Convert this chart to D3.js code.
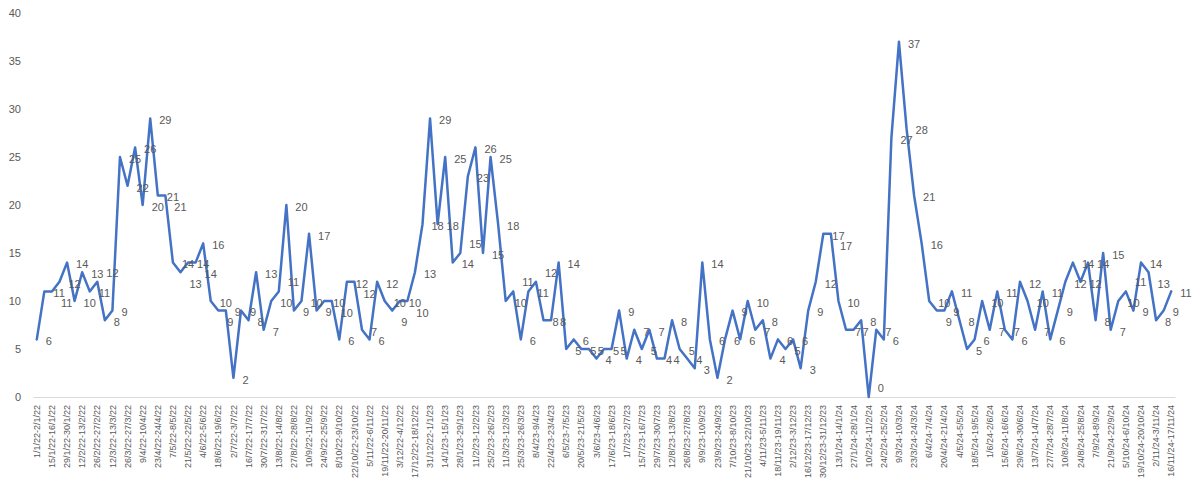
<!DOCTYPE html>
<html>
<head>
<meta charset="utf-8">
<script src="https://cdn.jsdelivr.net/npm/d3@7"></script>
<style>
  html, body { margin: 0; padding: 0; background: #ffffff; }
  svg { display: block; }
</style>
</head>
<body>
<svg id="chart" width="1200" height="504"></svg>
<script>
const categories = [
  "1/1/22-2/1/22","8/1/22-9/1/22","15/1/22-16/1/22","22/1/22-23/1/22","29/1/22-30/1/22",
  "5/2/22-6/2/22","12/2/22-13/2/22","19/2/22-20/2/22","26/2/22-27/2/22",
  "5/3/22-6/3/22","12/3/22-13/3/22","19/3/22-20/3/22","26/3/22-27/3/22",
  "2/4/22-3/4/22","9/4/22-10/4/22","16/4/22-17/4/22","23/4/22-24/4/22","30/4/22-1/5/22",
  "7/5/22-8/5/22","14/5/22-15/5/22","21/5/22-22/5/22","28/5/22-29/5/22",
  "4/6/22-5/6/22","11/6/22-12/6/22","18/6/22-19/6/22","25/6/22-26/6/22",
  "2/7/22-3/7/22","9/7/22-10/7/22","16/7/22-17/7/22","23/7/22-24/7/22","30/7/22-31/7/22",
  "6/8/22-7/8/22","13/8/22-14/8/22","20/8/22-21/8/22","27/8/22-28/8/22",
  "3/9/22-4/9/22","10/9/22-11/9/22","17/9/22-18/9/22","24/9/22-25/9/22",
  "1/10/22-2/10/22","8/10/22-9/10/22","15/10/22-16/10/22","22/10/22-23/10/22","29/10/22-30/10/22",
  "5/11/22-6/11/22","12/11/22-13/11/22","19/11/22-20/11/22","26/11/22-27/11/22",
  "3/12/22-4/12/22","10/12/22-11/12/22","17/12/22-18/12/22","24/12/22-25/12/22","31/12/22-1/1/23",
  "7/1/23-8/1/23","14/1/23-15/1/23","21/1/23-22/1/23","28/1/23-29/1/23",
  "4/2/23-5/2/23","11/2/23-12/2/23","18/2/23-19/2/23","25/2/23-26/2/23",
  "4/3/23-5/3/23","11/3/23-12/3/23","18/3/23-19/3/23","25/3/23-26/3/23",
  "1/4/23-2/4/23","8/4/23-9/4/23","15/4/23-16/4/23","22/4/23-23/4/23","29/4/23-30/4/23",
  "6/5/23-7/5/23","13/5/23-14/5/23","20/5/23-21/5/23","27/5/23-28/5/23",
  "3/6/23-4/6/23","10/6/23-11/6/23","17/6/23-18/6/23","24/6/23-25/6/23",
  "1/7/23-2/7/23","8/7/23-9/7/23","15/7/23-16/7/23","22/7/23-23/7/23","29/7/23-30/7/23",
  "5/8/23-6/8/23","12/8/23-13/8/23","19/8/23-20/8/23","26/8/23-27/8/23",
  "2/9/23-3/9/23","9/9/23-10/9/23","16/9/23-17/9/23","23/9/23-24/9/23","30/9/23-1/10/23",
  "7/10/23-8/10/23","14/10/23-15/10/23","21/10/23-22/10/23","28/10/23-29/10/23",
  "4/11/23-5/11/23","11/11/23-12/11/23","18/11/23-19/11/23","25/11/23-26/11/23",
  "2/12/23-3/12/23","9/12/23-10/12/23","16/12/23-17/12/23","23/12/23-24/12/23","30/12/23-31/12/23",
  "6/1/24-7/1/24","13/1/24-14/1/24","20/1/24-21/1/24","27/1/24-28/1/24",
  "3/2/24-4/2/24","10/2/24-11/2/24","17/2/24-18/2/24","24/2/24-25/2/24",
  "2/3/24-3/3/24","9/3/24-10/3/24","16/3/24-17/3/24","23/3/24-24/3/24","30/3/24-31/3/24",
  "6/4/24-7/4/24","13/4/24-14/4/24","20/4/24-21/4/24","27/4/24-28/4/24",
  "4/5/24-5/5/24","11/5/24-12/5/24","18/5/24-19/5/24","25/5/24-26/5/24",
  "1/6/24-2/6/24","8/6/24-9/6/24","15/6/24-16/6/24","22/6/24-23/6/24","29/6/24-30/6/24",
  "6/7/24-7/7/24","13/7/24-14/7/24","20/7/24-21/7/24","27/7/24-28/7/24",
  "3/8/24-4/8/24","10/8/24-11/8/24","17/8/24-18/8/24","24/8/24-25/8/24","31/8/24-1/9/24",
  "7/9/24-8/9/24","14/9/24-15/9/24","21/9/24-22/9/24","28/9/24-29/9/24",
  "5/10/24-6/10/24","12/10/24-13/10/24","19/10/24-20/10/24","26/10/24-27/10/24",
  "2/11/24-3/11/24","9/11/24-10/11/24","16/11/24-17/11/24"
];

const values2022 = [
  6, 11, 11, 12, 14, 10, 13, 11, 12, 8, 9, 25, 22, 26, 20, 29, 21, 21, 14, 13,
  14, 14, 16, 10, 9, 9, 2, 9, 8, 13, 7, 10, 11, 20, 9, 10, 17, 9, 10, 10,
  6, 12, 12, 7, 6, 12, 10, 9, 10, 10, 13, 18, 29
];
const values2023 = [
  18, 25, 14, 15, 23, 26, 15, 25, 18, 10, 11, 6, 11, 12, 8, 8, 14, 5, 6, 5,
  5, 4, 5, 5, 9, 4, 7, 5, 7, 4, 4, 8, 5, 4, 3, 14, 6, 2, 6, 9,
  6, 10, 7, 8, 4, 6, 5, 6, 3, 9, 12, 17
];
const values2024 = [
  17, 10, 7, 7, 8, 0, 7, 6, 27, 37, 28, 21, 16, 10, 9, 9, 11, 8, 5, 6,
  10, 7, 11, 7, 6, 12, 10, 7, 11, 6, 9, 12, 14, 12, 14, 8, 15, 7, 10, 11,
  9, 14, 13, 8, 9, 11
];
const values = values2022.concat(values2023, values2024);

const yTicks = [0, 5, 10, 15, 20, 25, 30, 35, 40];

const data = categories.map((c, i) => ({ cat: c, value: values[i] }));

const svg = d3.select("#chart");
const W = 1200, H = 504;
const margin = { left: 33, right: 25, top: 13, bottom: 107 };

const x = d3.scaleBand()
  .domain(categories)
  .range([margin.left, W - margin.right])
  .paddingInner(0).paddingOuter(0);

const y = d3.scaleLinear()
  .domain([0, 40])
  .range([H - margin.bottom, margin.top]);

const cx = d => x(d.cat) + x.bandwidth() / 2;

const textColor = "#595959";
const fontFam = "'Liberation Sans', Arial, sans-serif";

// Y axis
const yAxis = svg.append("g")
  .attr("transform", `translate(${margin.left},0)`)
  .call(d3.axisLeft(y).tickValues(yTicks).tickSize(0).tickPadding(12));
yAxis.select(".domain").remove();
yAxis.selectAll("text")
  .attr("fill", textColor)
  .style("font-family", fontFam)
  .style("font-size", "11px");

// X axis
const xAxis = svg.append("g")
  .attr("transform", `translate(0,${H - margin.bottom})`)
  .call(d3.axisBottom(x)
    .tickValues(categories.filter((c, i) => i % 2 === 0))
    .tickSize(0));
xAxis.select(".domain")
  .attr("stroke", "#d9d9d9")
  .attr("stroke-width", 1.2);
xAxis.selectAll("text")
  .attr("fill", textColor)
  .style("font-family", fontFam)
  .style("font-size", "9px")
  .attr("text-anchor", "end")
  .attr("transform", "rotate(-90)")
  .attr("x", -8)
  .attr("y", 0)
  .attr("dy", "0.35em");

// Line
const line = d3.line()
  .x(cx)
  .y(d => y(d.value));

svg.append("path")
  .datum(data)
  .attr("fill", "none")
  .attr("stroke", "#4472C4")
  .attr("stroke-width", 2.5)
  .attr("stroke-linejoin", "round")
  .attr("stroke-linecap", "round")
  .attr("d", line);

// Data labels: default to the right of the point (like the source),
// nudged to another side when they would collide with an earlier label.
const fs = 11, charW = 6.2, boxH = 10;
const placed = [];
function collides(b) {
  return placed.some(p => b.x0 < p.x1 && b.x1 > p.x0 && b.y0 < p.y1 && b.y1 > p.y0);
}
const labelPos = data.map(d => {
  const px = cx(d), py = y(d.value);
  const w = String(d.value).length * charW;
  const candidates = [
    { x: px + 9, y: py + 2, anchor: "start" },
    { x: px + 9, y: py + 12, anchor: "start" },
    { x: px + 9, y: py - 9, anchor: "start" },
    { x: px - 6, y: py - 9, anchor: "end" },
    { x: px - 6, y: py + 12, anchor: "end" },
    { x: px + 14, y: py + 22, anchor: "start" }
  ];
  let chosen = candidates[0];
  for (const c of candidates) {
    const x0 = c.anchor === "start" ? c.x : c.x - w;
    const b = { x0: x0, x1: x0 + w, y0: c.y - boxH / 2, y1: c.y + boxH / 2 };
    if (!collides(b) && b.y1 < H - margin.bottom + 4 && b.y0 > 2) { chosen = c; break; }
  }
  const x0 = chosen.anchor === "start" ? chosen.x : chosen.x - w;
  placed.push({ x0: x0, x1: x0 + w, y0: chosen.y - boxH / 2, y1: chosen.y + boxH / 2 });
  return chosen;
});

svg.append("g")
  .selectAll("text")
  .data(data)
  .join("text")
  .attr("x", (d, i) => labelPos[i].x)
  .attr("y", (d, i) => labelPos[i].y)
  .attr("text-anchor", (d, i) => labelPos[i].anchor)
  .attr("dy", "0.35em")
  .attr("fill", textColor)
  .style("font-family", fontFam)
  .style("font-size", fs + "px")
  .text(d => d.value);
</script>
</body>
</html>
